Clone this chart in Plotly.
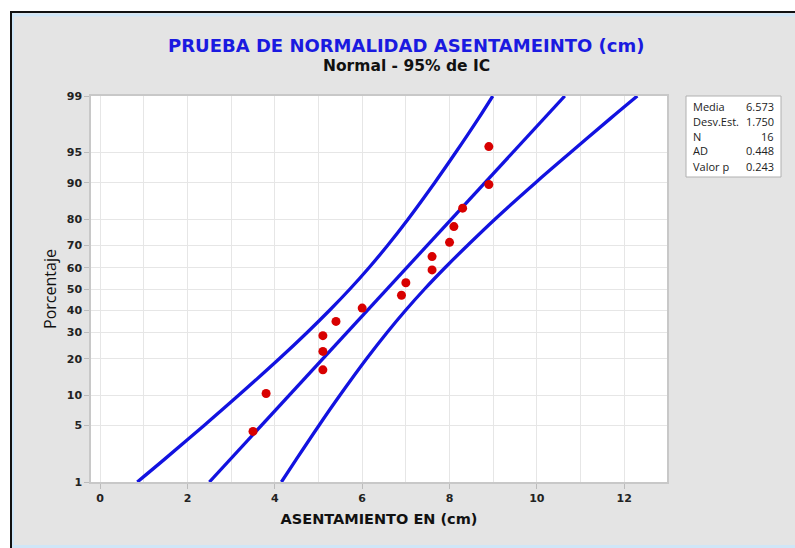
import plotly.graph_objects as go
from statistics import NormalDist

# ---------------- data ----------------
obs_x = [3.5, 3.8, 5.1, 5.1, 5.1, 5.4, 6.0, 6.9, 7.0, 7.6, 7.6, 8.0, 8.1, 8.3, 8.9, 8.9]
obs_pct = [4.3, 10.4, 16.5, 22.6, 28.7, 34.8, 40.9, 47.0, 53.0, 59.1, 65.2, 71.3, 77.4, 83.5, 89.6, 95.7]

fit_pct = [1, 99]
fit_x = [2.50, 10.64]

band_pct = [1, 2, 5, 10, 20, 30, 40, 50, 60, 70, 80, 90, 95, 98, 99]
band_lower = [0.85, 1.47, 2.38, 3.17, 4.10, 4.74, 5.26, 5.72, 6.15, 6.58, 7.05, 7.66, 8.14, 8.66, 8.99]
band_upper = [4.15, 4.49, 5.01, 5.49, 6.10, 6.57, 7.00, 7.43, 7.89, 8.41, 9.04, 9.97, 10.77, 11.68, 12.30]

y_ticks = [1, 5, 10, 20, 30, 40, 50, 60, 70, 80, 90, 95, 99]
x_ticks = [0, 2, 4, 6, 8, 10, 12]

stat_names = ["Media", "Desv.Est.", "N", "AD", "Valor p"]
stat_values = ["6.573", "1.750", "16", "0.448", "0.243"]

title_main = "PRUEBA DE NORMALIDAD ASENTAMEINTO (cm)"
title_sub = "Normal - 95% de IC"
x_title = "ASENTAMIENTO EN (cm)"
y_title = "Porcentaje"

# ---------------- helpers ----------------
nd = NormalDist()
def z(p):
    return nd.inv_cdf(p / 100.0)

W, H = 795, 548
L, R, T, B = 91, 667, 96, 482
def px(x):
    return (x - L) / (R - L)
def py(y):
    return (B - y) / (B - T)

BLUE = "#1212e0"
RED = "#d80000"

fig = go.Figure()
for xs in (band_lower, band_upper):
    fig.add_trace(go.Scatter(x=xs, y=[z(p) for p in band_pct], mode="lines",
                             line=dict(color=BLUE, width=3.3, shape="spline"),
                             hoverinfo="skip"))
fig.add_trace(go.Scatter(x=fit_x, y=[z(p) for p in fit_pct], mode="lines",
                         line=dict(color=BLUE, width=3.3)))
fig.add_trace(go.Scatter(x=obs_x, y=[z(p) for p in obs_pct], mode="markers",
                         marker=dict(color=RED, size=9)))

tickfont = dict(family="DejaVu Sans", size=11, color="#222222", weight="bold")
fig.update_xaxes(range=[-0.21, 12.98], tickvals=x_ticks, ticktext=[str(v) for v in x_ticks],
                 ticks="outside", ticklen=5, tickcolor="#bbbbbb",
                 showgrid=True, gridcolor="#e6e6e6", gridwidth=1,
                 minor=dict(dtick=1, tick0=0, showgrid=True, gridcolor="#e6e6e6", ticks=""),
                 showline=True, linecolor="#c8c8c8", linewidth=1.5, mirror=True,
                 zeroline=False, tickfont=tickfont,
                 title=dict(text="<b>" + x_title + "</b>", font=dict(family="DejaVu Sans", size=14.5, color="#111111"), standoff=10))
fig.update_yaxes(range=[z(1), z(99)], tickvals=[z(p) for p in y_ticks], ticktext=[str(v) for v in y_ticks],
                 ticks="outside", ticklen=5, tickcolor="#bbbbbb",
                 showgrid=True, gridcolor="#e6e6e6", gridwidth=1,
                 showline=True, linecolor="#c8c8c8", linewidth=1.5, mirror=True,
                 zeroline=False, tickfont=tickfont,
                 title=dict(text=y_title, font=dict(family="Open Sans", size=16, color="#111111"), standoff=6))

shapes = [
    # white outer margins
    dict(type="rect", xref="paper", yref="paper", x0=px(0), x1=px(10), y0=py(0), y1=py(H), fillcolor="white", line=dict(width=0), layer="below"),
    dict(type="rect", xref="paper", yref="paper", x0=px(0), x1=px(W), y0=py(0), y1=py(11), fillcolor="white", line=dict(width=0), layer="below"),
    # light blue inner border
    dict(type="line", xref="paper", yref="paper", x0=px(12), x1=px(W), y0=py(15), y1=py(15), line=dict(color="#cfe6f7", width=3)),
    dict(type="line", xref="paper", yref="paper", x0=px(13), x1=px(13), y0=py(13), y1=py(H), line=dict(color="#cfe6f7", width=2)),
    dict(type="line", xref="paper", yref="paper", x0=px(12), x1=px(W), y0=py(546.5), y1=py(546.5), line=dict(color="#cfe6f7", width=3)),
    # black outer border
    dict(type="line", xref="paper", yref="paper", x0=px(10), x1=px(W), y0=py(12), y1=py(12), line=dict(color="#111111", width=2)),
    dict(type="line", xref="paper", yref="paper", x0=px(11), x1=px(11), y0=py(11), y1=py(H), line=dict(color="#111111", width=2)),
    # stats box
    dict(type="rect", xref="paper", yref="paper", x0=px(686), x1=px(781), y0=py(96), y1=py(177), fillcolor="white", line=dict(color="#b0b0b0", width=1)),
]

annotations = [
    dict(text="<b>" + title_main + "</b>", x=px(406), y=py(46), xref="paper", yref="paper", showarrow=False,
         xanchor="center", yanchor="middle", font=dict(family="DejaVu Sans", size=18, color="#1a1ae0")),
    dict(text="<b>" + title_sub + "</b>", x=px(406), y=py(66), xref="paper", yref="paper", showarrow=False,
         xanchor="center", yanchor="middle", font=dict(family="DejaVu Sans", size=15.5, color="#111111")),
]
row_y = [106, 121, 136, 151, 166]
for name, val, ry in zip(stat_names, stat_values, row_y):
    annotations.append(dict(text=name, x=px(691), y=py(ry), xref="paper", yref="paper", showarrow=False,
                            xanchor="left", yanchor="middle", font=dict(family="Open Sans", size=11, color="#222222")))
    annotations.append(dict(text=val, x=px(776), y=py(ry), xref="paper", yref="paper", showarrow=False,
                            xanchor="right", yanchor="middle", font=dict(family="Open Sans", size=11, color="#222222")))

fig.update_layout(width=W, height=H, margin=dict(l=L, r=W - R, t=T, b=H - B, pad=0),
                  paper_bgcolor="#e4e4e4", plot_bgcolor="white", showlegend=False,
                  shapes=shapes, annotations=annotations)

fig.write_html("out.html", config={"displayModeBar": False},
               post_script="document.body.style.margin='0';document.body.style.overflow='hidden';")
